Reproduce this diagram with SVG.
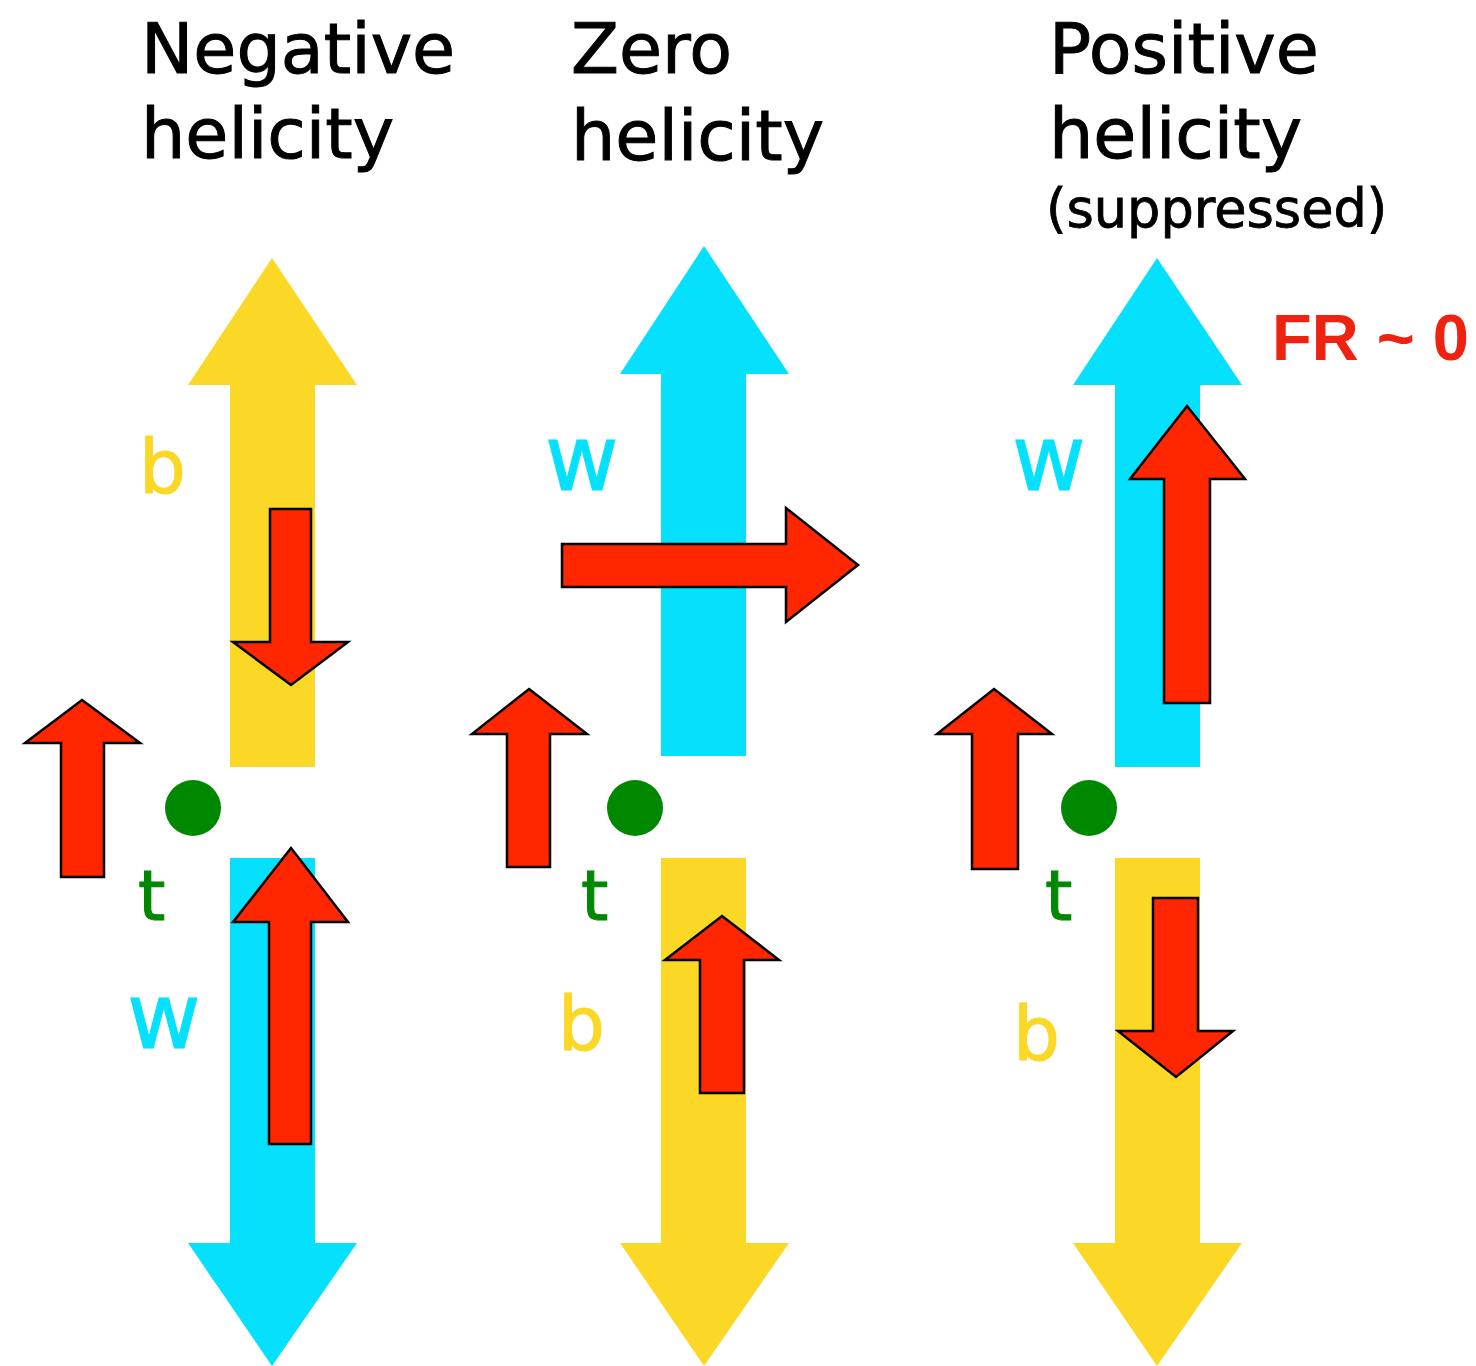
<svg xmlns="http://www.w3.org/2000/svg" width="1476" height="1366" viewBox="0 0 1476 1366">
<style>
.title{font-family:"DejaVu Sans",Verdana,sans-serif;font-size:70px;fill:#000;stroke:#000;stroke-width:1}
.sub{font-family:"DejaVu Sans",Verdana,sans-serif;font-size:52.5px;fill:#000;stroke:#000;stroke-width:0.8}
.fr{font-family:"Liberation Sans",Arial,sans-serif;font-weight:bold;font-size:65px;fill:#ee2211}
.lbl{font-family:"DejaVu Sans",Verdana,sans-serif;stroke-width:1}
.b{fill:#fbd726;stroke:#fbd726;font-size:74px}
.t{fill:#008800;stroke:#008800;font-size:70px}
.w{fill:#05e1fc;stroke:#05e1fc;font-size:90px}
.yel{fill:#fbd726}
.cya{fill:#05e1fc}
.spin{fill:#ff2600;stroke:#000;stroke-width:2.5;stroke-linejoin:miter}
.dot{fill:#008800}
</style>
<rect width="1476" height="1366" fill="#fff"/>
<g id="titles">
<text class="title" x="141" y="73">Negative</text>
<text class="title" x="141" y="158">helicity</text>
<text class="title" x="571" y="73">Zero</text>
<text class="title" x="571" y="160">helicity</text>
<text class="title" x="1049" y="73">Positive</text>
<text class="title" x="1049" y="158">helicity</text>
<text class="sub" x="1046" y="227">(suppressed)</text>
<text class="fr" x="1272" y="360">FR ~ 0</text>
</g>
<g id="negative">
<polygon class="yel" points="272,258 357,385 315,385 315,767 230,767 230,385 188,385"/>
<polygon class="cya" points="230,858 315,858 315,1243 357,1243 272,1366 188,1243 230,1243"/>
<polygon class="spin" points="270,509 311,509 311,642 348,642 291,685 233,642 270,642"/>
<polygon class="spin" points="291,848 348,922 311,922 311,1144 269,1144 269,922 233,922"/>
<polygon class="spin" points="82,700 140,743 104,743 104,877 61,877 61,743 25,743"/>
<circle class="dot" cx="193" cy="808" r="28"/>
<text class="lbl b" x="139" y="493">b</text>
<text class="lbl t" x="138" y="920">t</text>
<text class="lbl w" x="127" y="1048">w</text>
</g>
<g id="zero">
<polygon class="cya" points="704,246 789,374 746,374 746,756 661,756 661,374 620,374"/>
<polygon class="yel" points="661,858 746,858 746,1243 789,1243 704,1366 620,1243 661,1243"/>
<polygon class="spin" points="562,544 786,544 786,508 858,565 786,622 786,587 562,587"/>
<polygon class="spin" points="529,689 587,734 550,734 550,867 507,867 507,734 472,734"/>
<polygon class="spin" points="722,916 779,960 744,960 744,1093 700,1093 700,960 665,960"/>
<circle class="dot" cx="635" cy="808" r="28"/>
<text class="lbl w" x="545" y="490">w</text>
<text class="lbl t" x="581" y="920">t</text>
<text class="lbl b" x="558" y="1050">b</text>
</g>
<g id="positive">
<polygon class="cya" points="1157,258 1242,385 1200,385 1200,767 1115,767 1115,385 1073,385"/>
<polygon class="yel" points="1115,858 1200,858 1200,1243 1242,1243 1157,1366 1073,1243 1115,1243"/>
<polygon class="spin" points="1187,406 1245,479 1210,479 1210,703 1164,703 1164,479 1130,479"/>
<polygon class="spin" points="994,689 1052,734 1018,734 1018,869 972,869 972,734 937,734"/>
<polygon class="spin" points="1153,898 1198,898 1198,1031 1233,1031 1176,1077 1118,1031 1153,1031"/>
<circle class="dot" cx="1089" cy="808" r="28"/>
<text class="lbl w" x="1012" y="490">w</text>
<text class="lbl t" x="1045" y="920">t</text>
<text class="lbl b" x="1013" y="1060">b</text>
</g>
</svg>
